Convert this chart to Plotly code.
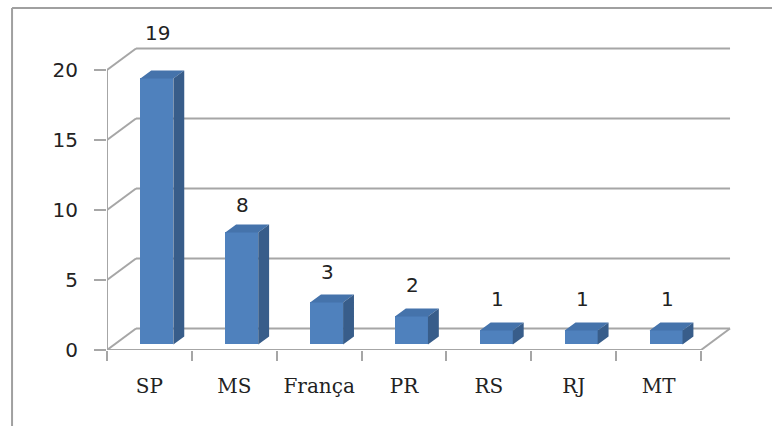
import plotly.graph_objects as go

# ---- data ----
categories = ["SP", "MS", "França", "PR", "RS", "RJ", "MT"]
values = [19, 8, 3, 2, 1, 1, 1]
y_ticks = [0, 5, 10, 15, 20]
y_tick_text = ["0", "5", "10", "15", "20"]
label_lift = [3.64, 2.36, 2.57, 2.64, 2.64, 2.64, 2.64]  # label position above bar (units)

# ---- pseudo-3D projection parameters (data units) ----
DX, DY = 0.342, 1.536      # full depth of the chart box
F1, F2 = 0.256, 0.631      # bar front / back depth fraction
BAR_W = 0.389
PX_PER_UNIT = 14.0

FRONT = "#4F81BD"
TOP = "#4573AB"
SIDE = "#385D8A"
GRID = "#A6A6A6"
TEXT = "#222222"

n = len(categories)
idx = list(range(n))
x_lo, x_hi = -0.5, n - 0.5

fig = go.Figure()

# front faces
bx = [i + F1 * DX for i in idx]
base = F1 * DY
fig.add_trace(go.Bar(
    x=bx, y=values, base=base, width=BAR_W,
    marker=dict(color=FRONT, line=dict(width=0)),
    hoverinfo="skip", showlegend=False,
))

sdx, sdy = (F2 - F1) * DX, (F2 - F1) * DY
top_x, top_y, side_x, side_y = [], [], [], []
for c, v in zip(bx, values):
    xl, xr = c - BAR_W / 2, c + BAR_W / 2
    t = v + base
    top_x += [xl, xr, xr + sdx, xl + sdx, xl, None]
    top_y += [t, t, t + sdy, t + sdy, t, None]
    side_x += [xr, xr + sdx, xr + sdx, xr, xr, None]
    side_y += [base, base + sdy, t + sdy, t, base, None]

fig.add_trace(go.Scatter(x=top_x, y=top_y, fill="toself", fillcolor=TOP,
                         mode="lines", line=dict(width=0, color=TOP),
                         hoverinfo="skip", showlegend=False))
fig.add_trace(go.Scatter(x=side_x, y=side_y, fill="toself", fillcolor=SIDE,
                         mode="lines", line=dict(width=0, color=SIDE),
                         hoverinfo="skip", showlegend=False))

# ---- walls / gridlines ----
shapes = []
def seg(x0, y0, x1, y1):
    shapes.append(dict(type="line", xref="x", yref="y", x0=x0, y0=y0, x1=x1, y1=y1,
                       line=dict(color=GRID, width=2), layer="below"))

for v in y_ticks:
    seg(x_lo + DX, v + DY, x_hi + DX, v + DY)   # back wall
    seg(x_lo, v, x_lo + DX, v + DY)             # side wall diagonal
seg(x_lo, 0, x_hi, 0)                           # floor front edge
seg(x_hi, 0, x_hi + DX, DY)                     # floor right edge
seg(x_lo, 0, x_lo, y_ticks[-1])                 # value axis line

# outer chart border (left and top edges)
for (x0, y0, x1, y1) in [(-0.150, -0.3, -0.150, 1.103), (-0.150, 1.103, 1.2, 1.103)]:
    shapes.append(dict(type="line", xref="paper", yref="paper", x0=x0, y0=y0, x1=x1, y1=y1,
                       line=dict(color="#A0A0A0", width=2)))

# ---- data labels ----
annotations = []
for i, v, lift in zip(idx, values, label_lift):
    annotations.append(dict(x=i + 0.1, y=v, xref="x", yref="y", text=str(v),
                            yshift=lift * PX_PER_UNIT,
                            showarrow=False, xanchor="center", yanchor="middle",
                            font=dict(family="DejaVu Sans", size=20, color=TEXT)))

fig.update_layout(
    width=772, height=426,
    margin=dict(l=107, r=32, t=40, b=76),
    paper_bgcolor="white", plot_bgcolor="white",
    shapes=shapes, annotations=annotations,
    bargap=0, showlegend=False,
)
fig.update_xaxes(
    range=[x_lo, x_lo + 633 / 84.86],
    tickvals=idx, ticktext=categories, ticks="",
    tickfont=dict(family="DejaVu Serif", size=20, color=TEXT),
    ticklabelstandoff=22,
    minor=dict(tickvals=[i - 0.5 for i in range(n + 1)], ticks="outside",
               ticklen=10, tickwidth=2, tickcolor=GRID),
    showgrid=False, zeroline=False, showline=False, fixedrange=True,
)
fig.update_yaxes(
    range=[0, 310 / PX_PER_UNIT],
    tickvals=y_ticks, ticktext=y_tick_text, ticks="outside",
    ticklen=12, tickwidth=2, tickcolor=GRID,
    tickfont=dict(family="DejaVu Sans", size=20, color=TEXT),
    ticklabelstandoff=12,
    showgrid=False, zeroline=False, showline=False, fixedrange=True,
)

fig.write_html("out.html", config={"displayModeBar": False})
